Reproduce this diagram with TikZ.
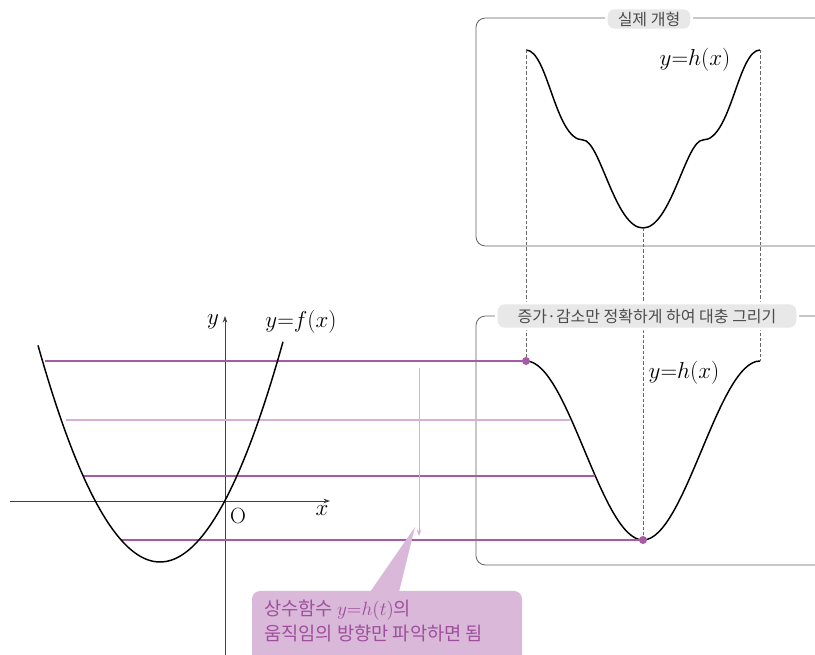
\documentclass[tikz,border=0pt]{standalone}
\usepackage{fontspec}
\newfontfamily\kr{Noto Sans CJK KR}
\usetikzlibrary{arrows.meta}
\definecolor{lineP}{HTML}{A65BA5}
\definecolor{lineL}{HTML}{D9AED7}
\definecolor{calloutP}{HTML}{D9B8D9}
\definecolor{textP}{HTML}{9E4F9C}
\definecolor{tagG}{HTML}{E8E8E8}

\tikzset{
  panel/.style={draw=black!62, line width=0.6pt, rounded corners=7pt},
  tag/.style={fill=tagG, draw=white, line width=2pt, rounded corners=6pt,
    text=black!70, font=\kr\fontsize{12}{13}\selectfont, inner sep=0pt},
  curve/.style={line width=1.1pt, black},
  guide/.style={black!60, line width=0.4pt, dash pattern=on 2.5pt off 1.5pt},
  level/.style={lineP, line width=1.1pt},
  levellight/.style={lineL, line width=1pt},
  axis/.style={black!75, line width=0.6pt, -{Stealth[length=5pt,width=3.5pt]}},
  mathlbl/.style={font=\fontsize{16.5}{18}\selectfont},
  dot/.style={circle, fill=lineP, inner sep=0pt, minimum size=6pt}
}

\begin{document}
\begin{tikzpicture}[x=0.75pt, y=-0.75pt]
  \useasboundingbox (0,0) rectangle (815,655);

  % panels
  \draw[panel] (476,18) rectangle (840,246);
  \draw[panel] (476,316) rectangle (840,565);

  % real shape of h
  \coordinate (ht0) at (526,50);
  \coordinate (htm) at (643,228);
  \coordinate (ht1) at (760,50);
  \draw[curve] (ht0) .. controls (548,50) and (555,140) .. (583,140)
    .. controls (600,140) and (615,228) .. (htm)
    .. controls (671,228) and (686,140) .. (703,140)
    .. controls (731,140) and (738,50) .. (ht1);
  \node[mathlbl] (hlabtop) at (695,60) {$y{=}h(x)$};

  % rough shape of h
  \coordinate (hb0) at (526,361);
  \coordinate (hbm) at (643,540);
  \coordinate (hb1) at (760,361);
  \draw[curve] (hb0) .. controls (568,361) and (601,540) .. (hbm)
    .. controls (685,540) and (718,361) .. (hb1);
  \node[mathlbl] (hlabbot) at (684,373) {$y{=}h(x)$};

  % guides
  \draw[guide] (ht0) -- (hb0);
  \draw[guide] (htm) -- (hbm);
  \draw[guide] (ht1) -- (hb1);

  % panel titles
  \node[tag, minimum width=64pt, minimum height=16.5pt] (tagtop) at (649,19) {실제 개형};
  \node[tag, minimum width=226pt, minimum height=19.5pt] (tagbot) at (647,316) {증가·감소만 정확하게 하여 대충 그리기};

  % axes
  \coordinate (O) at (225,501);
  \draw[axis] (10,501) -- (330,501);
  \draw[axis] (225,660) -- (225,316);
  \node[mathlbl] (xlab) at (322,511) {$x$};
  \node[mathlbl] (ylab) at (213,322) {$y$};
  \node[mathlbl] (olab) at (238,516) {O};
  \node[mathlbl] (flab) at (301,322) {$y{=}f(x)$};

  % levels
  \coordinate (a1) at (45,361);
  \coordinate (a2) at (66,420);
  \coordinate (a3) at (83,476);
  \coordinate (a4) at (121,540);
  \coordinate (b2) at (570,420);
  \coordinate (b3) at (595,476);
  \draw[level] (a1) -- (hb0);
  \draw[levellight] (a2) -- (b2);
  \draw[level, line width=0.9pt] (a3) -- (b3);
  \draw[level] (a4) -- (hbm);
  \node[dot] at (hb0) {};
  \node[dot] at (hbm) {};

  % f
  \draw[curve] plot[domain=38:283, samples=80] (\x, {562-0.01455*(\x-160)^2});

  % direction arrow
  \coordinate (d0) at (419,368);
  \coordinate (d1) at (419,536);
  \draw[lineL, line width=0.6pt, -{Stealth[length=5pt,width=3.5pt]}] (d0) -- (d1);

  % callout
  \fill[calloutP, rounded corners=6pt] (252,591) rectangle (522,680);
  \fill[calloutP] (370,592) -- (415,527) -- (399,592) -- cycle;
  \node[anchor=west, align=left, text=textP, font=\kr\fontsize{14}{18.5}\selectfont,
    inner sep=0pt] (note) at (264,621) {상수함수 {\fontsize{15.5}{18}\selectfont$y{=}h(t)$}의\\움직임의 방향만 파악하면 됨};
\end{tikzpicture}
\end{document}
